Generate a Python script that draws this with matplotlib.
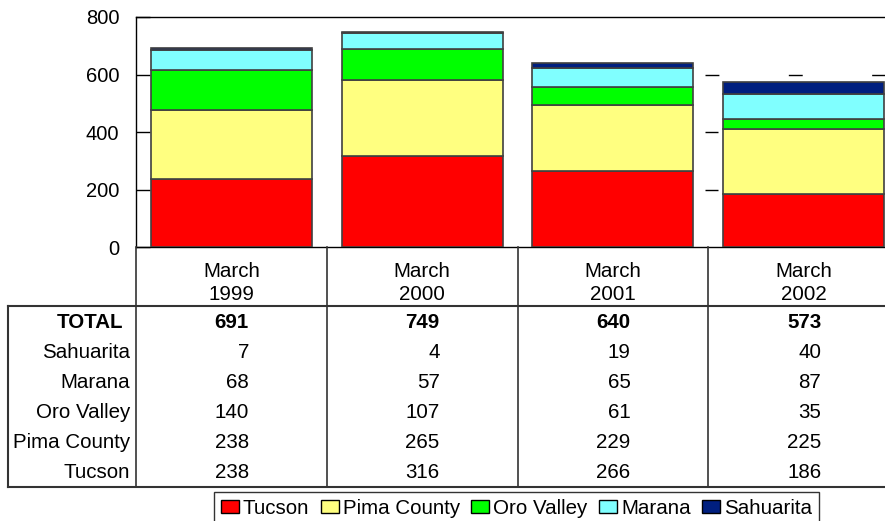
import matplotlib
matplotlib.use('Agg')
import matplotlib.pyplot as plt
import matplotlib.transforms as mtransforms
from matplotlib.patches import Patch
from matplotlib.lines import Line2D
import numpy as np

plt.rcParams['font.family'] = ['Liberation Sans', 'DejaVu Sans']

# data
periods = ['March\n1999', 'March\n2000', 'March\n2001', 'March\n2002']
tucson = [238, 316, 266, 186]
pima_county = [238, 265, 229, 225]
oro_valley = [140, 107, 61, 35]
marana = [68, 57, 65, 87]
sahuarita = [7, 4, 19, 40]
totals = [691, 749, 640, 573]

series = [('Tucson', tucson, '#ff0000'),
          ('Pima County', pima_county, '#ffff80'),
          ('Oro Valley', oro_valley, '#00ff00'),
          ('Marana', marana, '#80ffff'),
          ('Sahuarita', sahuarita, '#001f7f')]

FS = 14.8
W, H = 885, 521
fig = plt.figure(figsize=(W / 100, H / 100), dpi=100)

def fy(py):
    return 1 - py / H

# plot area (right edge runs past the image, as in the original)
x0, x1, ytop, ybot = 136, 899, 17, 247
ax = fig.add_axes([x0 / W, fy(ybot), (x1 - x0) / W, (ybot - ytop) / H])
ax.set_xlim(0, 4)
ax.set_ylim(0, 800)

xs = np.arange(len(periods)) + 0.5
bottom = np.zeros(len(periods))
for name, vals, col in series:
    ax.bar(xs, vals, width=0.845, bottom=bottom, color=col,
           edgecolor='#404040', linewidth=1.2, label=name, zorder=3)
    bottom += np.array(vals)

ax.set_yticks([0, 200, 400, 600, 800])
ax.tick_params(axis='y', direction='in', length=10, width=1, pad=12,
               labelsize=14.5, colors='#000000')
ax.set_xticks([])
for s in ['top', 'left', 'bottom']:
    ax.spines[s].set_color('#000000')
    ax.spines[s].set_linewidth(1)
ax.spines['right'].set_visible(False)

# leftover grid marks in the last column
ax.hlines(600, 2.985, 4.1, colors='#000000', linewidth=1,
          linestyles=(0, (10, 50)), zorder=1)
ax.hlines([200, 400], 2.985, 3.05, colors='#000000', linewidth=1, zorder=1)

# data table below the chart
tr = mtransforms.blended_transform_factory(ax.transData, fig.transFigure)
trf = fig.transFigure
lc = '#333333'
table_top, header_bot, table_bot = 247, 306, 487
for b in [0, 1, 2, 3]:
    fig.add_artist(Line2D([b, b], [fy(table_top), fy(table_bot)],
                          transform=tr, color=lc, linewidth=1.2))
fig.add_artist(Line2D([8 / W, 1], [fy(header_bot), fy(header_bot)],
                      transform=trf, color=lc, linewidth=1.5))
fig.add_artist(Line2D([8 / W, 1], [fy(table_bot), fy(table_bot)],
                      transform=trf, color=lc, linewidth=1.5))
fig.add_artist(Line2D([8 / W, 8 / W], [fy(header_bot), fy(table_bot)],
                      transform=trf, color=lc, linewidth=1.5))

for x, p in zip(xs, periods):
    fig.text(x, fy(283), p, transform=tr, ha='center', va='center',
             fontsize=FS, linespacing=1.28)

row_labels = ['TOTAL', 'Sahuarita', 'Marana', 'Oro Valley', 'Pima County', 'Tucson']
row_vals = [totals, sahuarita, marana, oro_valley, pima_county, tucson]
row_y = [323, 353, 383, 412, 442, 472]
for lab, vals, py in zip(row_labels, row_vals, row_y):
    bold = lab == 'TOTAL'
    fig.text((130 if not bold else 123) / W, fy(py), lab, ha='right', va='center',
             fontsize=FS, fontweight='bold' if bold else 'normal')
    for x, v in zip(xs, vals):
        fig.text(x + 0.092, fy(py), str(v), transform=tr, ha='right',
                 va='center', fontsize=FS,
                 fontweight='bold' if bold else 'normal')

handles = [Patch(facecolor=c, edgecolor='#000000', linewidth=1) for _, _, c in series]
leg = fig.legend(handles, [n for n, _, _ in series], ncol=5,
                 loc='upper left', bbox_to_anchor=(214 / W, fy(492)),
                 fontsize=FS, frameon=True, fancybox=False,
                 handlelength=0.87, handleheight=0.6, handletextpad=0.2,
                 columnspacing=0.56, borderpad=0.33, borderaxespad=0)
leg.get_frame().set_edgecolor('#000000')
leg.get_frame().set_linewidth(1)

fig.savefig('out.png', dpi=100)
